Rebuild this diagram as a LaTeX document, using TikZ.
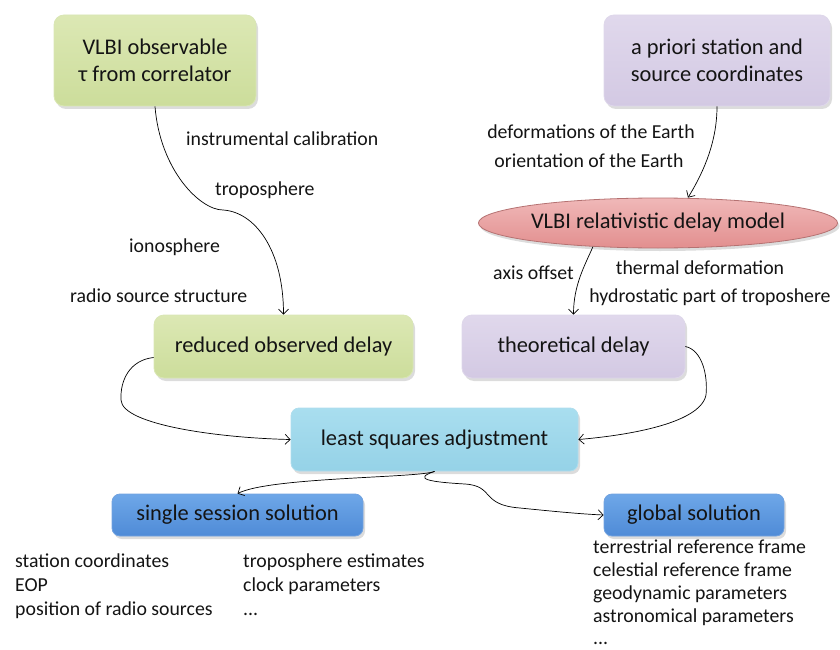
\documentclass[tikz,border=0pt]{standalone}
\usepackage{fontspec}
\setmainfont{Carlito}
\usetikzlibrary{shapes.geometric,arrows.meta,shadows}

\definecolor{grnTop}{HTML}{DCE8B4}
\definecolor{grnBot}{HTML}{CCDD9B}
\definecolor{purTop}{HTML}{E0D8EC}
\definecolor{purBot}{HTML}{D3C9E3}
\definecolor{cyaTop}{HTML}{A9DEEF}
\definecolor{cyaBot}{HTML}{95D2E7}
\definecolor{bluTop}{HTML}{6EA7E8}
\definecolor{bluBot}{HTML}{4F8BD7}
\definecolor{redTop}{HTML}{F0B8B8}
\definecolor{redBot}{HTML}{E28F8F}
\definecolor{inkc}{HTML}{141414}

\tikzset{
  boxbase/.style={rectangle, inner sep=0pt, align=center, text=inkc,
    font=\fontsize{22.4}{27}\selectfont, line width=0.8pt,
    drop shadow={opacity=0.28, shadow xshift=2pt, shadow yshift=-3pt}},
  greenbox/.style={boxbase, rounded corners=10pt, top color=grnTop, bottom color=grnBot, draw=grnBot!75!white},
  purplebox/.style={boxbase, rounded corners=10pt, top color=purTop, bottom color=purBot, draw=purBot!75!white},
  cyanbox/.style={boxbase, rounded corners=8pt, top color=cyaTop, bottom color=cyaBot, draw=cyaBot!75!white},
  bluebox/.style={boxbase, rounded corners=8pt, top color=bluTop, bottom color=bluBot, draw=bluBot!80!white},
  modelell/.style={boxbase, ellipse, top color=redTop, bottom color=redBot, draw=redBot!80!black},
  lbl/.style={inner sep=0pt, text=inkc, font=\fontsize{19.8}{24}\selectfont},
  conn/.style={draw=black, line width=0.7pt, -{Straight Barb[length=5pt,width=10pt]}}
}

\begin{document}
\begin{tikzpicture}[x=1pt,y=-1pt]
\useasboundingbox (0,0) rectangle (840,650);

% boxes
\node[greenbox, minimum width=202, minimum height=91] (obs) at (155,60.5)
  {VLBI observable\\τ from correlator};
\node[purplebox, minimum width=226, minimum height=91] (apr) at (717,60.5)
  {a priori station and\\source coordinates};
\node[modelell, minimum width=324, minimum height=50] (mdl) at (658,223)
  {VLBI relativistic delay model};
\node[greenbox, minimum width=259, minimum height=63] (red) at (283.5,346.5)
  {reduced observed delay};
\node[purplebox, minimum width=223, minimum height=63] (the) at (573.5,346.5)
  {theoretical delay};
\node[cyanbox, minimum width=287, minimum height=63] (lsq) at (434.5,439.5)
  {least squares adjustment};
\node[bluebox, minimum width=251, minimum height=42] (ssn) at (237.5,515)
  {single session solution};
\node[bluebox, minimum width=180, minimum height=42] (gsn) at (694,515)
  {global solution};

% corrections applied to the observable
\node[lbl, anchor=base west] (l1) at (186,146) {instrumental calibration};
\node[lbl, anchor=base west] (l2) at (215,195) {troposphere};
\node[lbl, anchor=base west] (l3) at (129,252) {ionosphere};
\node[lbl, anchor=base west] (l4) at (70,302) {radio source structure};

% model contributions
\node[lbl, anchor=base] (m1) at (591,139) {deformations of the Earth};
\node[lbl, anchor=base] (m2) at (589,167) {orientation of the Earth};
\node[lbl, anchor=base west] (m3) at (493,279) {axis offset};
\node[lbl, anchor=base] (m4) at (700,274) {thermal deformation};
\node[lbl, anchor=base] (m5) at (710,302) {hydrostatic part of troposhere};

% single session parameters
\node[lbl, anchor=base west] (s1) at (15,567) {station coordinates};
\node[lbl, anchor=base west] (s2) at (15,591) {EOP};
\node[lbl, anchor=base west] (s3) at (15,615) {position of radio sources};
\node[lbl, anchor=base west] (s4) at (243,567) {troposphere estimates};
\node[lbl, anchor=base west] (s5) at (243,591) {clock parameters};
\node[lbl, anchor=base west] (s6) at (243,615) {...};

% global parameters
\node[lbl, anchor=base west] (g1) at (593,553) {terrestrial reference frame};
\node[lbl, anchor=base west] (g2) at (593,576) {celestial reference frame};
\node[lbl, anchor=base west] (g3) at (593,599) {geodynamic parameters};
\node[lbl, anchor=base west] (g4) at (593,622) {astronomical parameters};
\node[lbl, anchor=base west] (g5) at (593,644) {...};

% connectors
\draw[conn] (obs.south) .. controls (160,170) and (200,210) .. (223,210)
  .. controls (255,212) and (283.5,250) .. (red.north);
\draw[conn] (apr.south) .. controls (717,140) and (705,170) .. ([xshift=30pt]mdl.north);
\draw[conn] (mdl.200) .. controls (585,265) and (573.5,285) .. (the.north);
\draw[conn] ([yshift=-11pt]red.west) .. controls (130,360) and (120,380) .. (121,400)
  .. controls (122,425) and (220,438) .. (lsq.west);
\draw[conn] (the.east) .. controls (702,350) and (708,375) .. (706,395)
  .. controls (700,425) and (620,436) .. (lsq.east);
\draw[conn] (lsq.south) .. controls (420,478) and (270,477) .. (ssn.north);
\draw[conn] (lsq.south) .. controls (412,479) and (430,482) .. (465,484)
  .. controls (495,486) and (480,505) .. (520,508)
  .. controls (550,511) and (580,514) .. (gsn.west);
\end{tikzpicture}
\end{document}
